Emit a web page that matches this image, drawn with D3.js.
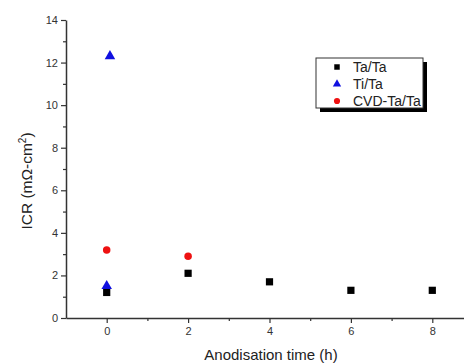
<!DOCTYPE html>
<html>
<head>
<meta charset="utf-8">
<script src="https://cdn.jsdelivr.net/npm/d3@7"></script>
<style>
  body { margin: 0; background: #fff; }
  text { font-family: "Liberation Sans", Arial, sans-serif; }
</style>
</head>
<body>
<div id="chart"></div>
<script>
const taTime = [0, 2, 4, 6, 8];
const taIcr = [1.2, 2.1, 1.7, 1.3, 1.3];
const tiTime = [0, 0.08];
const tiIcr = [1.5, 12.3];
const cvdTime = [0, 2];
const cvdIcr = [3.2, 2.9];
const xTicks = [0, 2, 4, 6, 8];
const xMinor = [1, 3, 5, 7];
const yTicks = [0, 2, 4, 6, 8, 10, 12, 14];
const yMinor = [1, 3, 5, 7, 9, 11, 13];

const width = 464, height = 363;
const svg = d3.select("#chart").append("svg")
    .attr("width", width)
    .attr("height", height);

const x = d3.scaleLinear().domain([-1, 9]).range([66, 473]);
const y = d3.scaleLinear().domain([0, 14]).range([318, 20]);
const axisColor = "#333";

// axes
svg.append("g").attr("transform", `translate(0,${y(0)})`)
    .call(d3.axisBottom(x).tickValues(xTicks).tickSize(5).tickSizeOuter(0).tickPadding(4));
svg.append("g").attr("transform", `translate(0,${y(0)})`)
    .call(d3.axisBottom(x).tickValues(xMinor).tickSize(3).tickFormat("").tickSizeOuter(0))
    .select(".domain").remove();
svg.append("g").attr("transform", `translate(${x(-1)},0)`)
    .call(d3.axisLeft(y).tickValues(yTicks).tickSize(5).tickSizeOuter(0).tickPadding(3));
svg.append("g").attr("transform", `translate(${x(-1)},0)`)
    .call(d3.axisLeft(y).tickValues(yMinor).tickSize(3).tickFormat("").tickSizeOuter(0))
    .select(".domain").remove();

svg.selectAll(".domain").attr("stroke", axisColor).attr("stroke-width", 1.5);
svg.selectAll(".tick line").attr("stroke", axisColor).attr("stroke-width", 1.2);
svg.selectAll(".tick text")
    .attr("fill", "#333")
    .style("font-size", "11px")
    .style("font-family", "Liberation Sans, Arial, sans-serif");

// axis titles
svg.append("text")
    .attr("x", 271).attr("y", 360)
    .attr("text-anchor", "middle")
    .style("font-size", "15px")
    .attr("fill", "#222")
    .text("Anodisation time (h)");

const yl = svg.append("text")
    .attr("transform", "translate(32,181) rotate(-90)")
    .attr("text-anchor", "middle")
    .style("font-size", "15.5px")
    .attr("fill", "#222");
yl.append("tspan").text("ICR (mΩ-cm");
yl.append("tspan").attr("dy", -6).style("font-size", "10px").text("2");
yl.append("tspan").attr("dy", 6).text(")");

// markers
const sym = {
    square: d3.symbol().type(d3.symbolSquare).size(52),
    triangle: d3.symbol().type(d3.symbolTriangle).size(48),
    circle: d3.symbol().type(d3.symbolCircle).size(44)
};

const series = [
    { name: "Ta/Ta", xs: taTime, ys: taIcr, shape: "square", color: "#000" },
    { name: "Ti/Ta", xs: tiTime, ys: tiIcr, shape: "triangle", color: "#1010e0" },
    { name: "CVD-Ta/Ta", xs: cvdTime, ys: cvdIcr, shape: "circle", color: "#ee1111" }
];

// draw Ta first then triangles/circles above
[series[0], series[2], series[1]].forEach(s => {
    svg.append("g")
        .selectAll("path")
        .data(s.xs.map((t, i) => ({ t: t, v: s.ys[i] })))
        .enter().append("path")
        .attr("d", sym[s.shape])
        .attr("transform", d => `translate(${x(d.t)},${y(d.v)})`)
        .attr("fill", s.color);
});

// legend
const lg = svg.append("g").attr("transform", "translate(316,58)");
lg.append("rect").attr("x", 4).attr("y", 4).attr("width", 107).attr("height", 50).attr("fill", "#000");
lg.append("rect").attr("width", 107).attr("height", 50).attr("fill", "#fff")
    .attr("stroke", "#333").attr("stroke-width", 1);
series.forEach((s, i) => {
    const row = lg.append("g").attr("transform", `translate(21,${9 + i * 17})`);
    row.append("path")
        .attr("d", d3.symbol().type(s.shape === "square" ? d3.symbolSquare : s.shape === "triangle" ? d3.symbolTriangle : d3.symbolCircle).size(30))
        .attr("fill", s.color);
    row.append("text")
        .attr("x", 16).attr("y", 5)
        .style("font-size", "14px")
        .attr("fill", "#222")
        .text(s.name);
});
</script>
</body>
</html>
